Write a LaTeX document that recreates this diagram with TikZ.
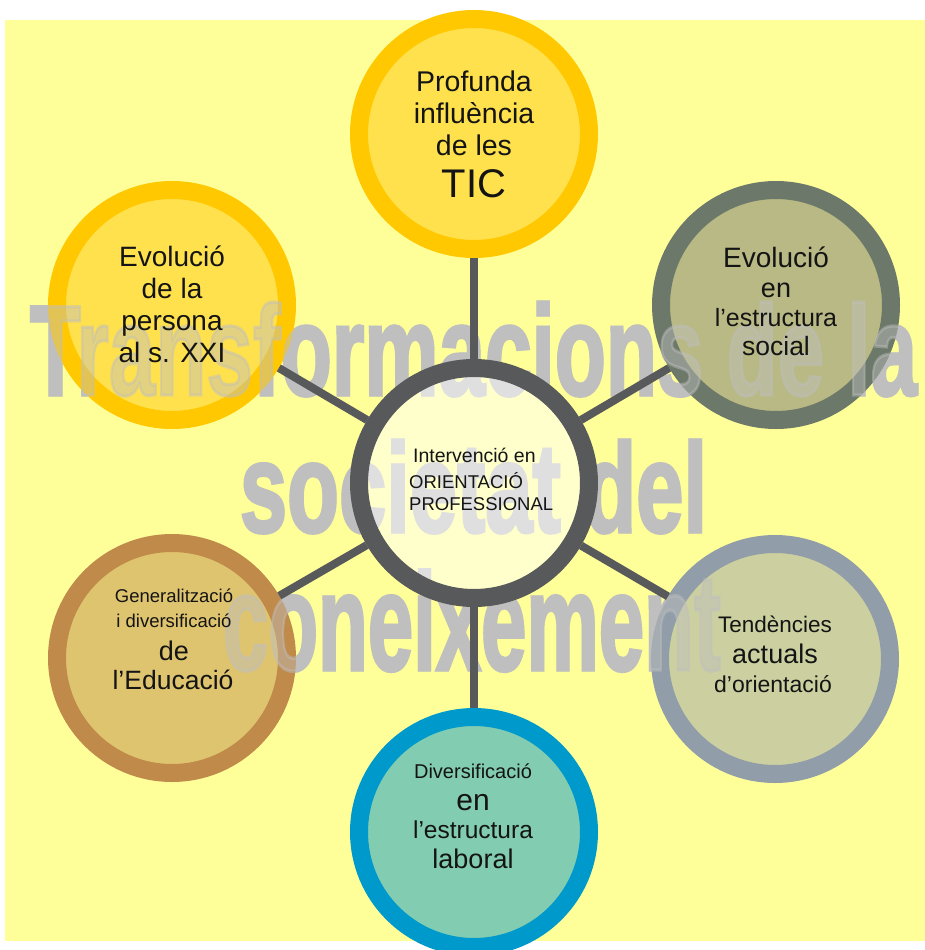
\documentclass[tikz,border=0pt]{standalone}
\usepackage{fontspec}
\setmainfont{Liberation Sans}
\newfontfamily\wmfont[FakeBold=2.5]{Liberation Sans Bold}
\usepackage{graphicx}
\newcommand\myfs[1]{\fontsize{#1}{#1}\selectfont}
\definecolor{bgyellow}{HTML}{FFFF99}
\definecolor{wmgray}{HTML}{BFBFBF}
\definecolor{linegray}{HTML}{58595B}
\definecolor{txt}{HTML}{141414}
\definecolor{ringTop}{HTML}{FFC800}
\definecolor{fillTop}{HTML}{FFE14D}
\definecolor{ringUR}{HTML}{6C7869}
\definecolor{fillUR}{HTML}{B8B984}
\definecolor{ringLL}{HTML}{C08A4A}
\definecolor{fillLL}{HTML}{DFC46F}
\definecolor{ringLR}{HTML}{919EA9}
\definecolor{fillLR}{HTML}{CCD0A0}
\definecolor{ringBot}{HTML}{0099CC}
\definecolor{fillBot}{HTML}{82CCB1}
\newcommand\wmA{\resizebox{887pt}{93pt}{\wmfont Transformacions de la}}
\newcommand\wmB{\resizebox{467pt}{92pt}{\wmfont societat del}}
\newcommand\wmC{\resizebox{498pt}{100pt}{\wmfont coneixement}}
\begin{document}
\begin{tikzpicture}[x=1pt,y=-1pt,
  ring/.style={circle, minimum size=230pt, inner sep=0pt, line width=18pt},
  lbl/.style={anchor=base, inner sep=0pt, text=txt},
  wm/.style={anchor=base, inner sep=0pt, text=wmgray},
  conn/.style={line width=8pt, draw=linegray}]
\useasboundingbox (0,0) rectangle (925,950);
\clip (0,0) rectangle (925,950);
\fill[bgyellow] (5,20) rectangle (925,941);
% watermark, opaque layer
\node[wm] (wa1) at (473.5,395) {\wmA};
\node[wm] (wb1) at (473.5,532) {\wmB};
\node[wm] (wc1) at (472,670) {\wmC};
% outer circles
\node[ring, draw=ringTop, fill=fillTop] (top) at (474,134) {};
\node[ring, draw=ringTop, fill=fillTop] (ul) at (172,305) {};
\node[ring, draw=ringUR, fill=fillUR] (ur) at (776,305) {};
\node[ring, draw=ringLL, fill=fillLL] (ll) at (172,658) {};
\node[ring, draw=ringLR, fill=fillLR] (lr) at (775,659) {};
\node[ring, draw=ringBot, fill=fillBot] (bot) at (474,832) {};
% watermark, translucent layer over the circles
\node[wm, opacity=0.45] (wa2) at (473.5,395) {\wmA};
\node[wm, opacity=0.45] (wb2) at (473.5,532) {\wmB};
\node[wm, opacity=0.45] (wc2) at (472,670) {\wmC};
% central circle
\node[ring, draw=linegray, fill=white, fill opacity=0.5] (ctr) at (474,483) {};
% connectors
\draw[conn] (ctr) -- (top);
\draw[conn] (ctr) -- (ul);
\draw[conn] (ctr) -- (ur);
\draw[conn] (ctr) -- (ll);
\draw[conn] (ctr) -- (lr);
\draw[conn] (ctr) -- (bot);
% top texts
\node[lbl, font=\myfs{28.5}] (t1) at (474,92) {Profunda};
\node[lbl, font=\myfs{28.5}] (t2) at (474,123) {influència};
\node[lbl, font=\myfs{28.5}] (t3) at (474,155) {de les};
\node[lbl, font=\myfs{40}] (t4) at (474,197) {TIC};
% upper left
\node[lbl, font=\myfs{28}] (ul1) at (172,266) {Evolució};
\node[lbl, font=\myfs{28}] (ul2) at (172,298) {de la};
\node[lbl, font=\myfs{28}] (ul3) at (172,330) {persona};
\node[lbl, font=\myfs{28}] (ul4) at (172,362) {al s. XXI};
% upper right
\node[lbl, font=\myfs{28}] (ur1) at (776,267) {Evolució};
\node[lbl, font=\myfs{27}] (ur2) at (776,297) {en};
\node[lbl, font=\myfs{25}] (ur3) at (776,326) {l’estructura};
\node[lbl, font=\myfs{26.5}] (ur4) at (776,355) {social};
% centre
\node[lbl, anchor=base west, font=\myfs{19.5}] (c1) at (413,462) {Intervenció en};
\node[lbl, anchor=base west, font=\myfs{18.5}] (c2) at (409,488) {ORIENTACIÓ};
\node[lbl, anchor=base west, font=\myfs{18.5}] (c3) at (409,510) {PROFESSIONAL};
% lower left
\node[lbl, font=\myfs{18.5}] (ll1) at (174,602) {Generalització};
\node[lbl, font=\myfs{18.5}] (ll2) at (174,627) {i diversificació};
\node[lbl, font=\myfs{27}] (ll3) at (174,660) {de};
\node[lbl, font=\myfs{26.5}] (ll4) at (173,689) {l’Educació};
% lower right
\node[lbl, font=\myfs{22.5}] (lr1) at (775,632) {Tendències};
\node[lbl, font=\myfs{27}] (lr2) at (775,663) {actuals};
\node[lbl, font=\myfs{23}] (lr3) at (773,692) {d’orientació};
% bottom
\node[lbl, font=\myfs{20}] (b1) at (473,778) {Diversificació};
\node[lbl, font=\myfs{30}] (b2) at (473,810) {en};
\node[lbl, font=\myfs{24.5}] (b3) at (473,838) {l’estructura};
\node[lbl, font=\myfs{27}] (b4) at (473,868) {laboral};
\end{tikzpicture}
\end{document}
